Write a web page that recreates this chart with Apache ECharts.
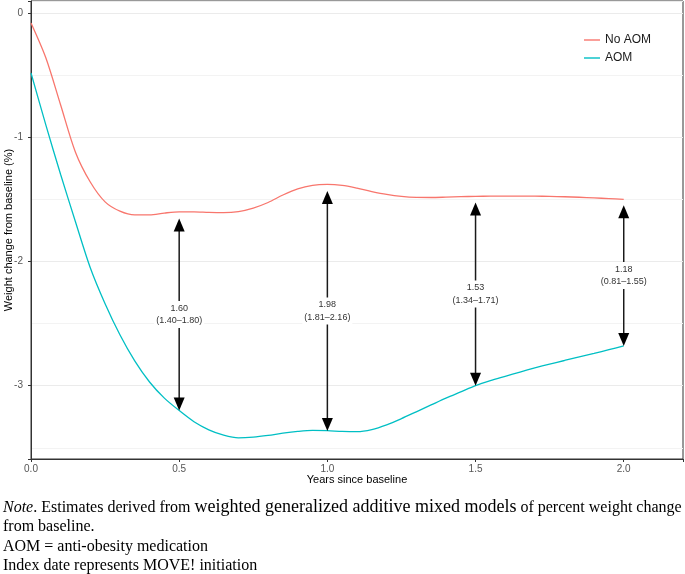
<!DOCTYPE html>
<html>
<head>
<meta charset="utf-8">
<script src="https://cdn.jsdelivr.net/npm/echarts@6/dist/echarts.min.js"></script>
<style>
html,body{margin:0;padding:0;background:#fff;}
#chart{width:685px;height:574px;}
</style>
</head>
<body>
<div id="chart"></div>
<script>
// ---- data ----
const years = [0,0.05,0.1,0.15,0.2,0.25,0.3,0.35,0.4,0.45,0.5,0.55,0.6,0.65,0.7,0.75,0.8,0.85,0.9,0.95,1.0,1.05,1.1,1.15,1.2,1.25,1.3,1.35,1.4,1.45,1.5,1.55,1.6,1.65,1.7,1.75,1.8,1.85,1.9,1.95,2.0];
const noAOM = [-0.08,-0.36,-0.74,-1.12,-1.36,-1.52,-1.595,-1.625,-1.625,-1.61,-1.60,-1.60,-1.605,-1.607,-1.598,-1.57,-1.525,-1.465,-1.415,-1.387,-1.38,-1.388,-1.41,-1.437,-1.46,-1.476,-1.484,-1.485,-1.482,-1.478,-1.476,-1.474,-1.473,-1.473,-1.474,-1.476,-1.479,-1.483,-1.488,-1.494,-1.50];
const aom = [-0.483,-0.90,-1.30,-1.68,-2.05,-2.34,-2.59,-2.80,-2.97,-3.10,-3.20,-3.29,-3.355,-3.398,-3.42,-3.414,-3.40,-3.382,-3.368,-3.36,-3.362,-3.368,-3.37,-3.353,-3.315,-3.265,-3.21,-3.155,-3.10,-3.05,-3.0,-2.96,-2.925,-2.89,-2.857,-2.826,-2.797,-2.768,-2.74,-2.71,-2.68];
const arrowX = [0.5, 1.0, 1.5, 2.0];
const arrowTop = [-1.654, -1.432, -1.525, -1.547];
const arrowBottom = [-3.20, -3.365, -3.0, -2.68];
const diffEst = ['1.60', '1.98', '1.53', '1.18'];
const diffCI = ['(1.40–1.80)', '(1.81–2.16)', '(1.34–1.71)', '(0.81–1.55)'];
const seriesNames = ['No AOM', 'AOM'];
const xTitle = 'Years since baseline';
const yTitle = 'Weight change from baseline (%)';
const noteLead = 'Note';
const noteLine1 = ['. Estimates derived from ', 'weighted generalized additive mixed models', ' of percent weight change'];
const noteLines = ['from baseline.', 'AOM = anti-obesity medication', 'Index date represents MOVE! initiation'];

// ---- chart ----
const chart = echarts.init(document.getElementById('chart'), null, {renderer: 'canvas'});
const pair = (xs, ys) => xs.map((x, i) => [x, ys[i]]);
const arrowData = arrowX.map((x, i) => [x, arrowTop[i], arrowBottom[i], diffEst[i] + '\n' + diffCI[i]]);
const isMult = (v, s) => Math.abs(v / s - Math.round(v / s)) < 1e-6;
const sans = 'Liberation Sans, Arial, sans-serif';
const serif = 'Liberation Serif, Times New Roman, serif';

const option = {
  animation: false,
  backgroundColor: '#fff',
  grid: {left: 31, right: 2, top: 1, bottom: 115, outerBoundsMode: 'none', containLabel: false,
    show: true, borderColor: '#333', borderWidth: 1, backgroundColor: 'transparent'},
  legend: {
    data: seriesNames,
    orient: 'vertical',
    left: 584, top: 34,
    itemWidth: 16, itemHeight: 12, itemGap: 6, padding: 0,
    icon: 'path://M0,0 L16,0 L16,1.4 L0,1.4 Z',
    textStyle: {fontSize: 12, color: '#1a1a1a', fontFamily: sans}
  },
  xAxis: {
    type: 'value', min: 0, max: 2.2, minInterval: 0.5, maxInterval: 0.5,
    name: xTitle, nameLocation: 'middle', nameGap: 15, nameMoveOverlap: false,
    nameTextStyle: {fontSize: 11, color: '#000', fontFamily: sans},
    axisLine: {show: true, onZero: false, lineStyle: {color: '#333', width: 1}},
    axisTick: {show: true, length: 3, lineStyle: {color: '#333'}},
    axisLabel: {margin: 5, fontSize: 10, color: '#555', fontFamily: sans,
      formatter: v => (isMult(v, 0.5) && v <= 2.0001) ? v.toFixed(1) : ''},
    splitLine: {show: false}
  },
  yAxis: {
    type: 'value', min: -3.59, max: 0.097, minInterval: 1, maxInterval: 1,
    name: yTitle, nameLocation: 'middle', nameGap: 17, nameMoveOverlap: false,
    nameTextStyle: {fontSize: 11, color: '#000', fontFamily: sans},
    axisLine: {show: true, onZero: false, lineStyle: {color: '#333', width: 1}},
    axisTick: {show: true, length: 3, lineStyle: {color: '#333'}},
    axisLabel: {margin: 8, fontSize: 10, color: '#555', fontFamily: sans,
      formatter: v => isMult(v, 1) ? String(Math.round(v)) : ''},
    splitLine: {show: true, lineStyle: {color: '#ebebeb', width: 1.2}},
    minorTick: {show: false, splitNumber: 2},
    minorSplitLine: {show: true, lineStyle: {color: '#f3f3f3', width: 1}}
  },
  series: [
    {name: seriesNames[0], type: 'line', data: pair(years, noAOM), showSymbol: false, symbol: 'none',
      smooth: 0.3, lineStyle: {color: '#F8766D', width: 1.3}, itemStyle: {color: '#F8766D'}, z: 3},
    {name: seriesNames[1], type: 'line', data: pair(years, aom), showSymbol: false, symbol: 'none',
      smooth: 0.3, lineStyle: {color: '#00BFC4', width: 1.3}, itemStyle: {color: '#00BFC4'}, z: 3},
    {
      name: 'diff', type: 'custom', data: arrowData, z: 5,
      encode: {x: 0, y: [1, 2]},
      renderItem: (params, api) => {
        const x = api.value(0);
        const p1 = api.coord([x, api.value(1)]);
        const p2 = api.coord([x, api.value(2)]);
        const label = arrowData[params.dataIndex][3];
        const hw = 5.5, hl = 13;
        const mid = [(p1[0] + p2[0]) / 2, (p1[1] + p2[1]) / 2];
        return {
          type: 'group',
          children: [
            {type: 'line', shape: {x1: p1[0], y1: p1[1] + hl - 1, x2: p2[0], y2: p2[1] - hl + 1},
              style: {stroke: '#1a1a1a', lineWidth: 1.5}},
            {type: 'polygon', shape: {points: [[p1[0], p1[1]], [p1[0] - hw, p1[1] + hl], [p1[0] + hw, p1[1] + hl]]},
              style: {fill: '#000'}},
            {type: 'polygon', shape: {points: [[p2[0], p2[1]], [p2[0] - hw, p2[1] - hl], [p2[0] + hw, p2[1] - hl]]},
              style: {fill: '#000'}},
            {type: 'text', x: mid[0], y: mid[1],
              style: {text: label, align: 'center', verticalAlign: 'middle', fill: '#333',
                font: '9px ' + sans, lineHeight: 12.5, backgroundColor: '#fff', padding: [1, 2]}}
          ]
        };
      }
    }
  ],
  graphic: [
    {type: 'text', left: 3, top: 498, style: {
      text: '{i|' + noteLead + '}{n|' + noteLine1[0] + '}{b|' + noteLine1[1] + '}{n|' + noteLine1[2] + '}',
      font: '16px ' + serif, fill: '#000',
      rich: {
        i: {fontStyle: 'italic', fontSize: 16, fontFamily: serif, fill: '#000', verticalAlign: 'bottom'},
        n: {fontSize: 16, fontFamily: serif, fill: '#000', verticalAlign: 'bottom'},
        b: {fontSize: 18, fontFamily: serif, fill: '#000', verticalAlign: 'bottom'}
      }}},
    {type: 'text', left: 3, top: 519, style: {text: noteLines[0], font: '16px ' + serif, fill: '#000'}},
    {type: 'text', left: 3, top: 538.5, style: {text: noteLines[1], font: '16px ' + serif, fill: '#000'}},
    {type: 'text', left: 3, top: 558, style: {text: noteLines[2], font: '16px ' + serif, fill: '#000'}}
  ]
};
chart.setOption(option);
</script>
</body>
</html>
